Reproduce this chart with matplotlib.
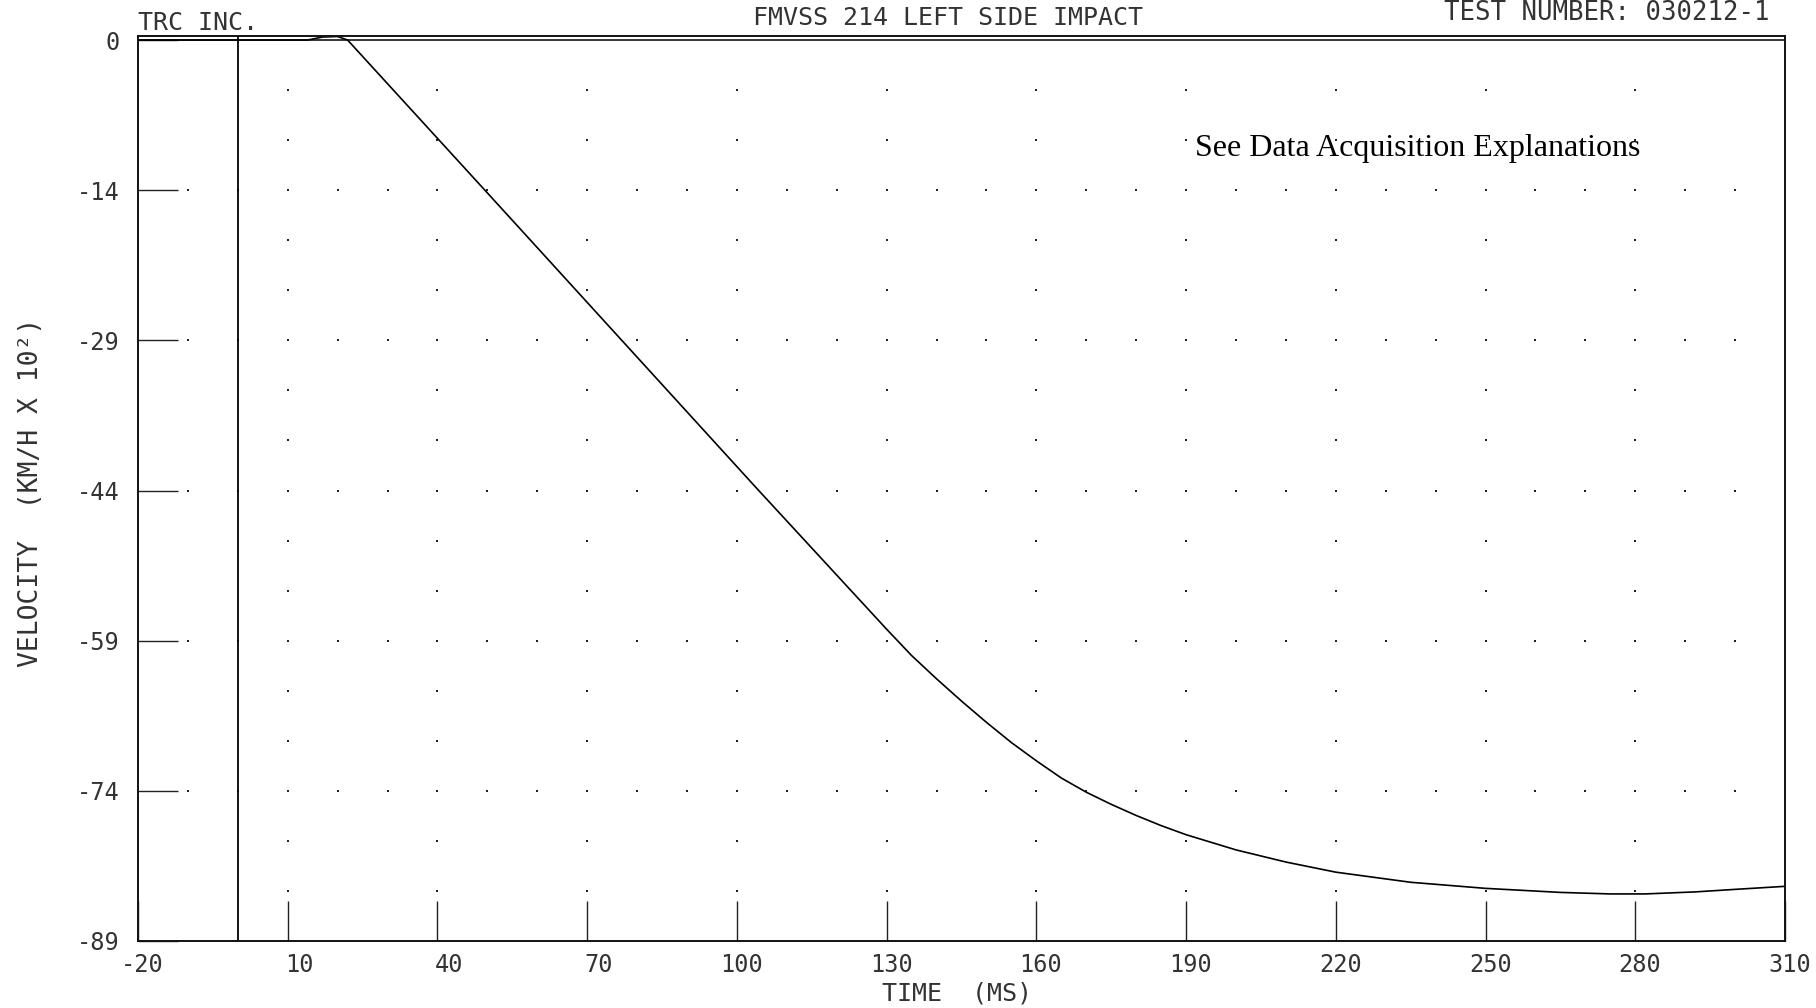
import numpy as np
import matplotlib
matplotlib.use("Agg")
import matplotlib.pyplot as plt
from matplotlib.transforms import ScaledTranslation

# velocity trace (ms, km/h x 10^2)
time_ms = [-20, 0, 14, 17, 20, 22, 50, 77, 104, 130, 135, 140, 145, 150, 155,
           160, 165, 170, 175, 180, 185, 190, 200, 210, 220, 235, 250, 265,
           275, 282, 292, 300, 310]
velocity = [0, 0, 0, 0.3, 0.35, 0, -15.1, -29.7, -44.3, -58.2, -60.8, -63.1,
            -65.3, -67.4, -69.4, -71.2, -72.9, -74.3, -75.5, -76.6, -77.6, -78.5,
            -80.0, -81.2, -82.2, -83.2, -83.8, -84.2, -84.35, -84.35, -84.15,
            -83.9, -83.6]

xticks = [-20, 10, 40, 70, 100, 130, 160, 190, 220, 250, 280, 310]
xtick_labels = [str(t) for t in xticks]
yticks = np.linspace(0, -89, 7)
ytick_labels = ['0', '-14', '-29', '-44', '-59', '-74', '-89']

plt.rcParams['font.family'] = ['DejaVu Sans Mono']
ink = '#333333'

W, H = 1816, 1008
fig = plt.figure(figsize=(W / 100, H / 100), dpi=100)
ax = fig.add_axes([138 / W, 1 - 941 / H, (1785 - 138) / W, (941 - 36) / H])
ax.set_xlim(-20, 310)
ax.set_ylim(-89, 0.4)

# plotter style dot grid: minor x on major y rows, major x on minor y rows
xs_minor = np.arange(-10, 310, 10)
xs_major = np.arange(10, 310, 30)
ys_major = yticks[1:-1]
ys_minor = np.linspace(0, -89, 19)[1:-1]
gx1, gy1 = np.meshgrid(xs_minor, ys_major)
gx2, gy2 = np.meshgrid(xs_major, ys_minor)
ax.plot(gx1.ravel(), gy1.ravel(), ls='none', marker='s', ms=1.5, mew=0, color='#222222')
ax.plot(gx2.ravel(), gy2.ravel(), ls='none', marker='s', ms=1.5, mew=0, color='#222222')

ax.axvline(0, color='k', lw=1.3)
ax.axhline(0, color='k', lw=1.1)
ax.plot(time_ms, velocity, color='k', lw=1.2)

for s in ax.spines.values():
    s.set_linewidth(1.4)
    s.set_color('#111111')

ax.set_xticks(xticks)
ax.set_xticklabels(xtick_labels)
ax.set_yticks(yticks)
ax.set_yticklabels(ytick_labels)
ax.tick_params(axis='both', direction='in', length=28.5, width=1.0, color='#222222',
               labelsize=17, labelcolor=ink)
ax.tick_params(axis='x', pad=8.5)
ax.tick_params(axis='y', pad=13)

# the plotter right-justifies x labels a little past each tick
shift = ScaledTranslation(26 / 100, 0, fig.dpi_scale_trans)
for lab in ax.get_xticklabels():
    lab.set_horizontalalignment('right')
    lab.set_transform(lab.get_transform() + shift)

fig.text(138 / W, 1 - 30 / H, 'TRC INC.', ha='left', va='baseline', size=18, color=ink)
fig.text(948 / W, 1 - 25 / H, 'FMVSS 214 LEFT SIDE IMPACT', ha='center', va='baseline',
         size=18, color=ink)
fig.text(1770 / W, 1 - 20 / H, 'TEST NUMBER: 030212-1', ha='right', va='baseline',
         size=18.5, color=ink)
fig.text(31 / W, 1 - 492 / H, 'VELOCITY  (KM/H X 10²)', rotation=90, ha='center',
         va='center', size=19, color=ink)
fig.text(957 / W, 1 - 994 / H, 'TIME  (MS)', ha='center', va='center', size=18, color=ink)
fig.text(1195 / W, 1 - 156 / H, 'See Data Acquisition Explanations', ha='left',
         va='baseline', size=23, color='k', family=['Liberation Serif', 'DejaVu Serif'])

fig.savefig('out.png', dpi=100, facecolor='white')
